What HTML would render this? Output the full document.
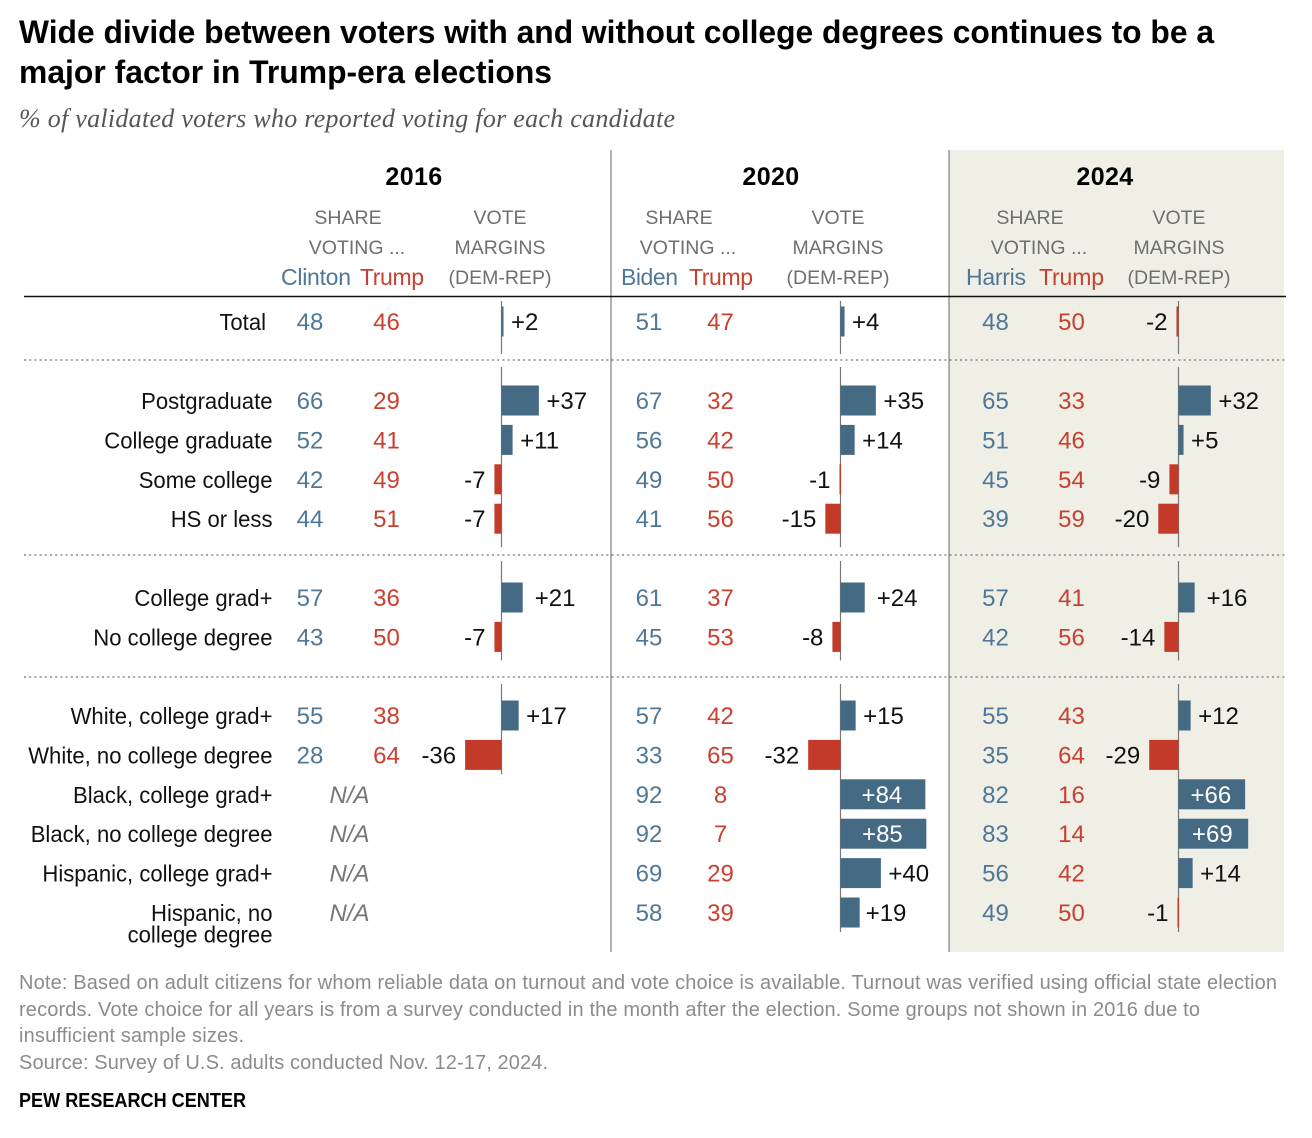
<!DOCTYPE html>
<html lang="en">
<head>
<meta charset="utf-8">
<title>Wide divide between voters with and without college degrees</title>
<style>
html,body{margin:0;padding:0;background:#fff;width:1312px;height:1138px;overflow:hidden}
svg{display:block;font-family:"Liberation Sans",Arial,sans-serif}
.hd{font-size:19.5px;fill:#6f6f6f;text-anchor:middle}
.cand{font-size:23px}
.note{font-size:20px;fill:#8b8b8b}
.num{font-size:24px;text-anchor:middle}
.lbl{font-size:23px;fill:#111;text-anchor:end}
.mg{font-size:24px;fill:#111}
.yr{font-size:25px;font-weight:bold;fill:#000;text-anchor:middle;letter-spacing:.4px}
</style>
</head>
<body>
<svg id="chart" xmlns="http://www.w3.org/2000/svg" width="1312" height="1138" viewBox="0 0 1312 1138">
<rect x="949" y="150" width="335" height="802" fill="#efefe6"/>
<text x="19" y="43" font-size="32" font-weight="bold" fill="#000" textLength="1195" lengthAdjust="spacingAndGlyphs">Wide divide between voters with and without college degrees continues to be a</text>
<text x="19" y="83" font-size="32" font-weight="bold" fill="#000" textLength="533" lengthAdjust="spacingAndGlyphs">major factor in Trump-era elections</text>
<text x="19" y="127" font-size="26" font-style="italic" fill="#555" style="font-family:'Liberation Serif',serif" textLength="656" lengthAdjust="spacing">% of validated voters who reported voting for each candidate</text>

<line x1="611" x2="611" y1="150" y2="952" stroke="#666" stroke-width="1"/>
<line x1="949" x2="949" y1="150" y2="952" stroke="#666" stroke-width="1"/>
<line x1="24" x2="1286" y1="296.5" y2="296.5" stroke="#111" stroke-width="1.4"/>
<line x1="24" x2="1286" y1="360" y2="360" stroke="#888" stroke-width="1.5" stroke-dasharray="2 3.2"/>
<line x1="24" x2="1286" y1="555" y2="555" stroke="#888" stroke-width="1.5" stroke-dasharray="2 3.2"/>
<line x1="24" x2="1286" y1="677" y2="677" stroke="#888" stroke-width="1.5" stroke-dasharray="2 3.2"/>

<g id="marks"></g>

<text class="note" x="19" y="989" textLength="1258" lengthAdjust="spacing">Note: Based on adult citizens for whom reliable data on turnout and vote choice is available. Turnout was verified using official state election</text>
<text class="note" x="19" y="1016" textLength="1181" lengthAdjust="spacing">records. Vote choice for all years is from a survey conducted in the month after the election. Some groups not shown in 2016 due to</text>
<text class="note" x="19" y="1042" textLength="225" lengthAdjust="spacing">insufficient sample sizes.</text>
<text class="note" x="19" y="1069" textLength="529" lengthAdjust="spacing">Source: Survey of U.S. adults conducted Nov. 12-17, 2024.</text>
<text x="19" y="1107" font-size="20" font-weight="bold" fill="#000" textLength="227" lengthAdjust="spacingAndGlyphs">PEW RESEARCH CENTER</text>
</svg>
<script>
const rowLabels = ["Total","Postgraduate","College graduate","Some college","HS or less","College grad+","No college degree","White, college grad+","White, no college degree","Black, college grad+","Black, no college degree","Hispanic, college grad+","Hispanic, no|college degree"];
const years = ["2016","2020","2024"];
const demNames = ["Clinton","Biden","Harris"];
const repName = "Trump";
const dem2016 = [48,66,52,42,44,57,43,55,28,null,null,null,null];
const rep2016 = [46,29,41,49,51,36,50,38,64,null,null,null,null];
const margin2016 = [2,37,11,-7,-7,21,-7,17,-36,null,null,null,null];
const dem2020 = [51,67,56,49,41,61,45,57,33,92,92,69,58];
const rep2020 = [47,32,42,50,56,37,53,42,65,8,7,29,39];
const margin2020 = [4,35,14,-1,-15,24,-8,15,-32,84,85,40,19];
const dem2024 = [48,65,51,45,39,57,42,55,35,82,83,56,49];
const rep2024 = [50,33,46,54,59,41,56,43,64,16,14,42,50];
const margin2024 = [-2,32,5,-9,-20,16,-14,12,-29,66,69,14,-1];
const groupSizes = [1,4,2,6];

const NS = "http://www.w3.org/2000/svg";
const BLUE_BAR = "#456a84", BLUE_TXT = "#4f7898", RED_BAR = "#c33a28", RED_TXT = "#c8402f";
const marks = document.getElementById("marks");
const groupStart = [322,401,598,716];
const rowStep = 39.4;
const barH = 30;
const layouts = [
  {axis:501.5, dem:310, rep:386.5, share:348, vote:500, year:414, demX:316, repX:392, demW:70, repW:64},
  {axis:840.5, dem:649, rep:720.5, share:679, vote:838, year:771, demX:649.5, repX:721, demW:57, repW:64},
  {axis:1178.5, dem:995.5, rep:1071.5, share:1030, vote:1179, year:1105, demX:996, repX:1071.5, demW:60, repW:65}
];
const series = [
  {dem:dem2016, rep:rep2016, margin:margin2016},
  {dem:dem2020, rep:rep2020, margin:margin2020},
  {dem:dem2024, rep:rep2024, margin:margin2024}
];
function rowY(i){
  let r = i;
  for (let g = 0; g < groupSizes.length; g++){
    if (r < groupSizes[g]) return groupStart[g] + r * rowStep;
    r -= groupSizes[g];
  }
  return 0;
}
function xScale(axis, v){ return axis + v * 1.01; }
function labelGap(i){ return i === 5 ? 12 : i === 12 ? 6 : 7.5; }
function text(cls, x, y, str, fill){
  const t = document.createElementNS(NS, "text");
  t.setAttribute("class", cls);
  t.setAttribute("x", x);
  t.setAttribute("y", y);
  if (fill) t.setAttribute("fill", fill);
  t.textContent = str;
  marks.appendChild(t);
  return t;
}
const slug = s => s.toLowerCase().replace(/\|/g," ").replace(/[^a-z0-9]+/g,"-");

rowLabels.forEach((lab, i) => {
  const y = rowY(i);
  const parts = lab.split("|");
  parts.forEach((p, k) => {
    const x = i === 0 ? 266 : 272.5;
    const t = text("lbl", x, y + 8 + k * 21.5, p);
    t.setAttribute("textLength", (t.getComputedTextLength() * 0.96).toFixed(1));
    t.setAttribute("lengthAdjust", "spacingAndGlyphs");
    
    
  });
});

years.forEach((yr, c) => {
  const L = layouts[c], S = series[c];
  let t = text("yr", L.year, 185, yr);
  
  
  [["SHARE",L.share,224],["VOTING ...",L.share+9,254]].forEach(h => {
    const e = text("hd", h[1], h[2], h[0]);
    
    
  });
  [["VOTE",224],["MARGINS",254],["(DEM-REP)",284]].forEach(h => {
    const e = text("hd", L.vote, h[1], h[0]);
    
    
  });
  t = text("cand", L.demX, 285, demNames[c], BLUE_TXT);
  t.setAttribute("text-anchor", "middle");
  t.setAttribute("textLength", L.demW);
  
  
  t = text("cand", L.repX, 285, repName, RED_TXT);
  t.setAttribute("text-anchor", "middle");
  t.setAttribute("textLength", L.repW);
  
  

  // axis segments, one per row group; stop at the last row with data
  let first = 0;
  groupSizes.forEach((n, g) => {
    let last = -1;
    for (let r = first; r < first + n; r++) { if (S.margin[r] !== null) last = r; }
    if (last >= 0) {
      const padTop = [21,34,37,32][g], padBot = [32,28,23,19][g];
      const ln = document.createElementNS(NS, "line");
      ln.setAttribute("x1", L.axis);
      ln.setAttribute("x2", L.axis);
      ln.setAttribute("y1", rowY(first) - padTop);
      ln.setAttribute("y2", rowY(last) + padBot);
      ln.setAttribute("stroke", "#777");
      ln.setAttribute("stroke-width", "1.2");
      
      
      marks.appendChild(ln);
    }
    first += n;
  });

  rowLabels.forEach((lab, i) => {
    const y = rowY(i), key = slug(lab) + '-' + yr;
    const v = S.margin[i];
    if (v === null) {
      const na = text("num", 349.5, y + 8, "N/A", "#777");
      na.setAttribute("font-style", "italic");
      
      
      return;
    }
    let e = text("num", L.dem, y + 8, S.dem[i], BLUE_TXT);
    
    
    e = text("num", L.rep, y + 8, S.rep[i], RED_TXT);
    
    

    const x0 = L.axis, x1 = xScale(L.axis, v);
    const bar = document.createElementNS(NS, "rect");
    bar.setAttribute("x", Math.min(x0, x1));
    bar.setAttribute("y", y - barH / 2 - 0.5);
    bar.setAttribute("width", Math.max(Math.abs(x1 - x0), 1.5));
    bar.setAttribute("height", barH);
    bar.setAttribute("fill", v >= 0 ? BLUE_BAR : RED_BAR);
    
    
    marks.appendChild(bar);

    const s = (v > 0 ? "+" : "") + v;
    let m;
    if (v >= 60) {
      m = text("mg", (x0 + x1) / 2 - 1, y + 8, s);
      m.setAttribute("text-anchor", "middle");
      m.setAttribute("style", "fill:#fff");
    } else if (v >= 0) {
      m = text("mg", x1 + labelGap(i), y + 8, s);
    } else {
      m = text("mg", x1 - 9, y + 8, s);
      m.setAttribute("text-anchor", "end");
    }
    
    
  });
});
</script>
</body>
</html>
